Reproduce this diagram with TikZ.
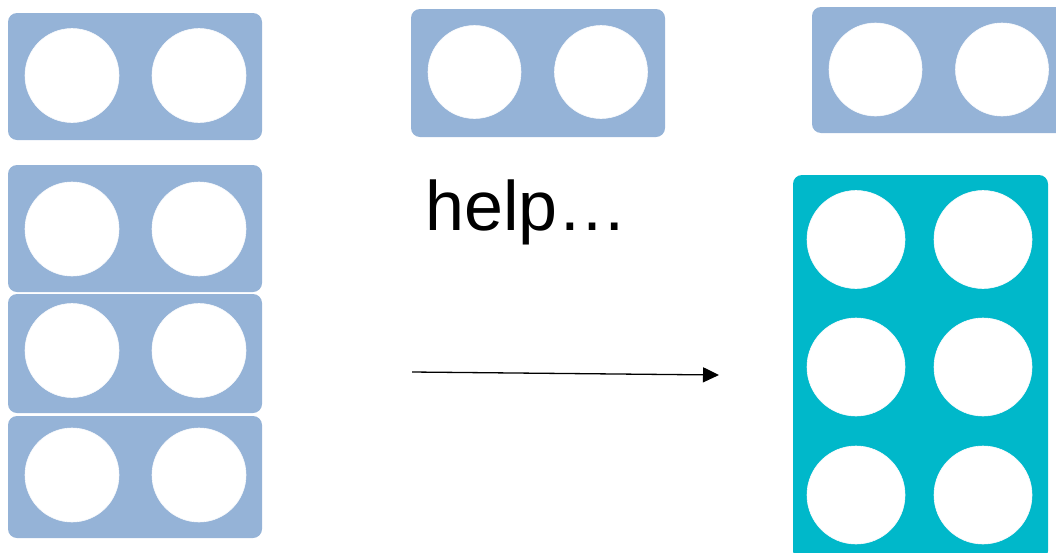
\documentclass[tikz,border=0pt]{standalone}
\usepackage{fontspec}
\setmainfont{Liberation Sans}
\usetikzlibrary{arrows.meta}
\definecolor{lightblue}{HTML}{95B3D7}
\definecolor{tealbox}{HTML}{00B8CA}
\tikzset{
  plate/.style={rectangle, rounded corners=9pt, inner sep=0pt, draw=none},
  blueplate/.style={plate, fill=lightblue, minimum width=254pt},
  hole/.style={circle, fill=white, draw=white!92!lightblue, line width=0.6pt, inner sep=0pt, minimum size=#1},
  hole/.default=94pt,
  conn/.style={line width=1.3pt, -{Triangle[length=16pt,width=15pt]}}
}
\begin{document}
\begin{tikzpicture}[x=1pt,y=-1pt]
\useasboundingbox (0,0) rectangle (1056,552);
\clip (0,0) rectangle (1056,552);
% left column of 2-stud plates
\node[blueplate, minimum height=127pt] (p1) at (135,76.5) {};
\node[hole] (p1a) at (72,75.5) {};
\node[hole] (p1b) at (199,75.5) {};
\node[blueplate, minimum height=127pt] (p2) at (135,228.5) {};
\node[hole] (p2a) at (72,229) {};
\node[hole] (p2b) at (199,229) {};
\node[blueplate, minimum height=119pt] (p3) at (135,353.5) {};
\node[hole] (p3a) at (72,350.5) {};
\node[hole] (p3b) at (199,350.5) {};
\node[blueplate, minimum height=122pt] (p4) at (135,477) {};
\node[hole] (p4a) at (72,475) {};
\node[hole] (p4b) at (199,475) {};
% middle plate
\node[blueplate, minimum height=128pt] (m1) at (538,73) {};
\node[hole=93pt] (m1a) at (474.5,72) {};
\node[hole=93pt] (m1b) at (601,72) {};
% text
\node[anchor=base west, inner sep=0pt, font=\fontsize{70pt}{84pt}\selectfont] (help) at (425,230) {help…};
% arrow
\coordinate (a0) at (412,372);
\coordinate (a1) at (719,375);
\draw[conn] (a0) -- (a1);
% right top plate
\node[blueplate, minimum width=254pt, minimum height=126pt] (r1) at (939,70) {};
\node[hole=93pt] (r1a) at (875.5,69.5) {};
\node[hole=93pt] (r1b) at (1002,69.5) {};
% big teal plate
\node[plate, fill=tealbox, minimum width=255pt, minimum height=385pt] (t) at (920.5,367.5) {};
\node[hole=98pt] (t1a) at (856,239.5) {};
\node[hole=98pt] (t1b) at (983,239.5) {};
\node[hole=98pt] (t2a) at (856,367) {};
\node[hole=98pt] (t2b) at (983,367) {};
\node[hole=98pt] (t3a) at (856,495) {};
\node[hole=98pt] (t3b) at (983,495) {};
\end{tikzpicture}
\end{document}
